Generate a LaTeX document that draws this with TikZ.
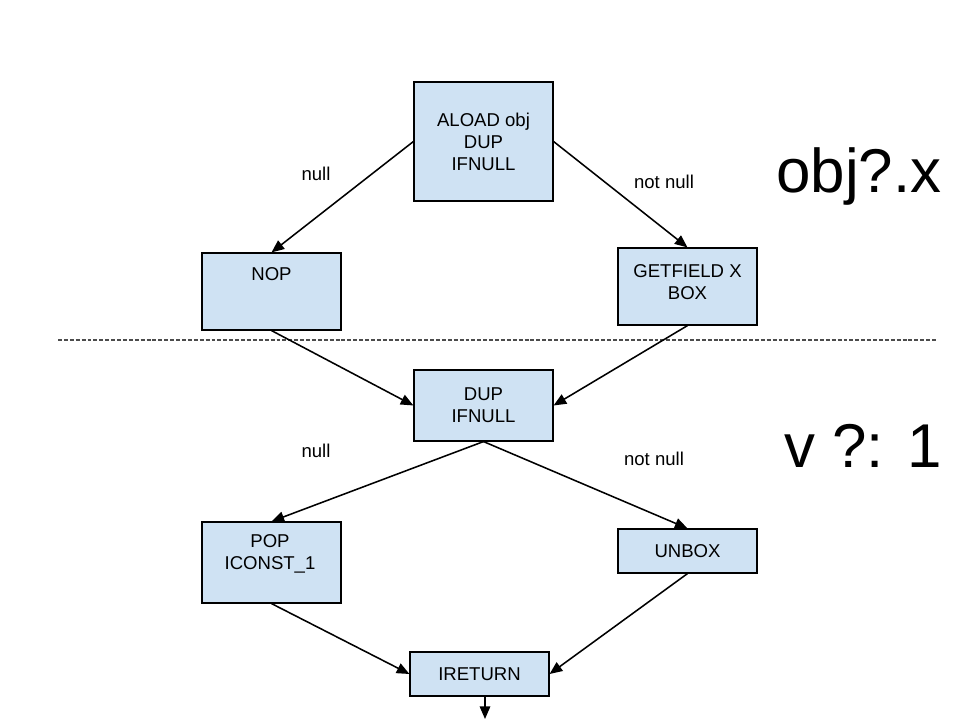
\documentclass[tikz,border=0pt]{standalone}
\usepackage{fontspec}
\setmainfont{Liberation Sans}
\usetikzlibrary{arrows.meta}
\definecolor{opblue}{HTML}{CFE2F3}

\begin{document}
\begin{tikzpicture}[x=0.025cm, y=-0.025cm, op/.style={draw=black, line width=0.8pt, fill=opblue, minimum width=3.475cm, align=center, inner sep=0pt, font=\fontsize{13.2}{15.6}\selectfont}, optxt/.style={align=center, inner sep=0pt, font=\fontsize{13.2}{15.6}\selectfont}, arr/.style={-{Triangle[length=9pt, width=7.5pt]}, line width=1.1pt}, lbl/.style={font=\fontsize{13.2}{15.6}\selectfont, inner sep=0pt}, big/.style={font=\fontsize{44}{50}\selectfont, inner sep=0pt, anchor=base}]
\useasboundingbox (0,0) rectangle (960,720);
\node[op, minimum height=2.975cm] (aload) at (483.5,141.5) {ALOAD obj\\DUP\\IFNULL}; \node[op, minimum height=1.925cm] (nop) at (271.5,291.5) {}; \node[op, minimum height=1.925cm] (getf) at (687.5,286.5) {};
\node[optxt] at (271.5,274) {NOP}; \node[optxt] at (687.5,282) {GETFIELD X\\BOX};
\node[op, minimum height=1.775cm] (dup) at (483.5,405.5) {DUP\\IFNULL}; \node[op, minimum height=2.025cm] (pop) at (271.5,562.5) {}; \node[op, minimum height=1.1cm] (unbox) at (687.5,551) {UNBOX};
\node[optxt] at (270,554) {POP\\ICONST\_1};
\node[op, minimum height=1.1cm] (iret) at (479.5,674) {IRETURN}; \coordinate (ret) at (485,719);
% dashed separator
\draw[black!70, line width=0.8pt, dash pattern=on 2.8pt off 1.4pt] (58,340) -- (937,340);
\draw[arr] (aload.west) -- (nop.north); \draw[arr] (aload.east) -- (getf.north); \draw[arr] (nop.south) -- (dup.west); \draw[arr] (getf.south) -- (dup.east);
\draw[arr] (dup.south) -- (pop.north); \draw[arr] (dup.south) -- (unbox.north); \draw[arr] (pop.south) -- (iret.west); \draw[arr] (unbox.south) -- (iret.east); \draw[arr] (iret.south -| ret) -- (ret);
\node[lbl] at (316,174) {null}; \node[lbl] at (664,182) {not null}; \node[lbl] at (316,451) {null}; \node[lbl] at (654,459) {not null};
\node[big] at (859,193) {obj?.x}; \node[big] at (863,468) {v ?: 1};
\end{tikzpicture}
\end{document}
